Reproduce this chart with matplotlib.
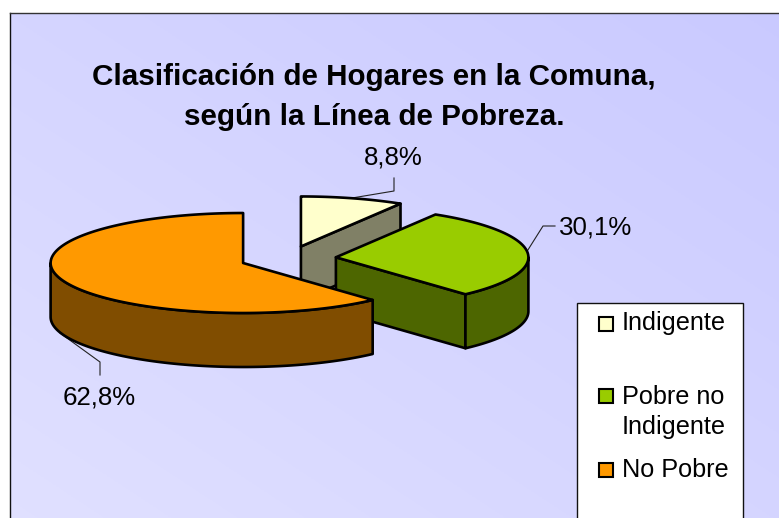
"""Exploded 3D-look pie of household classification by poverty line."""

import numpy as np
import matplotlib
matplotlib.use("Agg")
import matplotlib.pyplot as plt
from matplotlib.patches import Rectangle

categories = ["Indigente", "Pobre no\nIndigente", "No Pobre"]
values = [8.8, 30.1, 62.8]
value_labels = ["8,8%", "30,1%", "62,8%"]
top_colors = ["#FFFFCC", "#99CC00", "#FF9900"]
side_colors = ["#808066", "#4D6600", "#804D00"]

W, H = 779, 518
CX, CY = 288, 258.5
RX, RY = 192.5, 50
DEPTH = 54
EXPLODE = 0.25
EDGE = 1.9

plt.rcParams["font.family"] = ["Liberation Sans", "DejaVu Sans"]

fig = plt.figure(figsize=(W / 100, H / 100), dpi=100, facecolor="white")
ax = fig.add_axes([0, 0, 1, 1])
ax.axis("off")

# panel background, lighter towards the lower left
gx, gy = np.meshgrid(np.linspace(0, 1, 200), np.linspace(0, 1, 200))
t = (gx + (1 - gy)) / 2
c1, c2 = np.array([0.88, 0.88, 1.0]), np.array([0.79, 0.79, 1.0])
grad = c1 + (c2 - c1) * t[..., None]
ax.imshow(grad, extent=(10, W + 2, H + 2, 13), aspect="auto", zorder=0)
ax.set_xlim(0, W)
ax.set_ylim(H, 0)
ax.plot([10, 10], [H + 2, 13], color="#111111", lw=1, zorder=1)
ax.plot([10, W + 2], [13, 13], color="#333333", lw=1, zorder=1)


def point(apex, ang):
    return apex[0] + RX * np.sin(ang), apex[1] - RY * np.cos(ang)


# clockwise from 12 o'clock, shares normalised since the labels add to 101.7
shares = np.array(values) / sum(values) * 2 * np.pi
starts = np.concatenate([[0], np.cumsum(shares)[:-1]])

for i in range(len(values)):
    a0, a1 = starts[i], starts[i] + shares[i]
    mid = (a0 + a1) / 2
    apex = (CX + EXPLODE * RX * np.sin(mid), CY - EXPLODE * RY * np.cos(mid))
    z = 2 + i * 3
    kw = dict(edgecolor="black", lw=EDGE, joinstyle="round", zorder=z)

    # flat wall under the closing edge, only when it faces the viewer
    if a1 < np.pi:
        ex, ey = point(apex, a1)
        ax.fill([apex[0], ex, ex, apex[0]], [apex[1], ey, ey + DEPTH, apex[1] + DEPTH],
                facecolor=side_colors[i], **kw)

    # outer rim, only the part on the near half of the ellipse
    r0, r1 = max(a0, np.pi / 2), min(a1, 3 * np.pi / 2)
    if r1 > r0:
        rim = np.linspace(r0, r1, 120)
        rx, ry = point(apex, rim)
        ax.fill(np.r_[rx, rx[::-1]], np.r_[ry, ry[::-1] + DEPTH],
                facecolor=side_colors[i], **kw)

    arc = np.linspace(a0, a1, 200)
    tx, ty = point(apex, arc)
    ax.fill(np.r_[apex[0], tx], np.r_[apex[1], ty], facecolor=top_colors[i],
            edgecolor="black", lw=EDGE, joinstyle="round", zorder=z + 1)

# leader lines and value labels
ax.plot([394, 394, 352], [178, 191, 198], color="#222222", lw=0.8, zorder=1.5)
ax.plot([526, 543, 555], [253, 226, 226], color="#222222", lw=0.8, zorder=1.5)
ax.plot([60, 100, 100], [333, 362, 375], color="#222222", lw=0.8, zorder=1.5)
label_pos = [(393, 158), (596, 228), (99, 397)]
for s, (x, y) in zip(value_labels, label_pos):
    ax.text(x, y, s, fontsize=18.6, ha="center", va="center", color="black", zorder=13)

ax.text(373.5, 77, "Clasificación de Hogares en la Comuna,", fontsize=21.3, fontweight="bold",
        ha="center", va="center", color="black", zorder=13)
ax.text(374.5, 117, "según la Línea de Pobreza.", fontsize=21.3, fontweight="bold",
        ha="center", va="center", color="black", zorder=13)

# legend box runs off the bottom of the picture
ax.add_patch(Rectangle((577, 303), 166, H, facecolor="white", edgecolor="#111111", lw=1, zorder=14))
swatch_y = [324, 396, 470]
text_y = [323, 412, 470]
for name, color, sy, ty in zip(categories, top_colors, swatch_y, text_y):
    ax.add_patch(Rectangle((599, sy - 7), 14, 14, facecolor=color, edgecolor="black", lw=1.5, zorder=15))
    ax.text(622, ty, name, fontsize=18.2, ha="left", va="center", color="black",
            linespacing=1.36, zorder=15)

fig.savefig("out.png", dpi=100)
